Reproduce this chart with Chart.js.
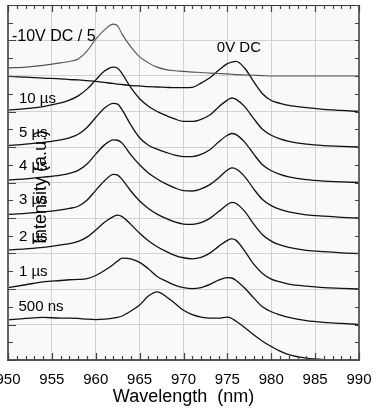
<!DOCTYPE html>
<html>
<head>
<meta charset="utf-8">
<script src="https://cdn.jsdelivr.net/npm/chart.js@4.4.0/dist/chart.umd.min.js"></script>
<style>
    html, body { margin: 0; padding: 0; background: #fff; }
    #wrap { width: 377px; height: 411px; position: relative; }
</style>
</head>
<body>
<div id="wrap"><canvas id="chart"></canvas></div>
<script>
// wavelength samples (nm)
var wavelengths = [950, 952, 954, 956, 957, 958, 959, 960, 961, 962, 962.5, 963, 964, 965, 966, 967, 968, 969, 970, 971,
    972, 973, 974, 975, 975.5, 976, 977, 978, 979, 980, 981, 982, 984, 986, 988, 990];

var seriesNames = ["-10V DC / 5", "0V DC", "10 µs", "5 µs", "4 µs", "3 µs", "2 µs", "1 µs", "500 ns"];
var offsets = [8, 7, 6, 5, 4, 3, 2, 1, 0];

// intensity above each trace's own baseline (a.u.)
var dcMinus10 = [0.23, 0.25, 0.30, 0.37, 0.41, 0.48, 0.70, 1.04, 1.30, 1.46, 1.41, 1.18, 0.82, 0.54, 0.37, 0.25, 0.18, 0.15, 0.13, 0.11,
    0.10, 0.08, 0.07, 0.06, 0.05, 0.04, 0.03, 0.02, 0.01, 0, 0, 0, 0, 0, 0, 0];
var dc0 = [0.99, 0.97, 0.94, 0.92, 0.90, 0.89, 0.87, 0.85, 0.82, 0.79, 0.77, 0.76, 0.73, 0.72, 0.70, 0.69, 0.68, 0.67, 0.67, 0.68,
    0.80, 0.95, 1.16, 1.35, 1.39, 1.41, 1.21, 0.84, 0.50, 0.31, 0.23, 0.17, 0.11, 0.06, 0.03, 0];
var us10 = [1.04, 1.08, 1.14, 1.24, 1.32, 1.44, 1.63, 1.89, 2.14, 2.25, 2.22, 2.07, 1.67, 1.36, 1.15, 1.00, 0.89, 0.79, 0.72, 0.72,
    0.78, 0.90, 1.13, 1.32, 1.38, 1.34, 1.13, 0.80, 0.50, 0.33, 0.23, 0.16, 0.08, 0.04, 0.02, 0];
var us5 = [1.04, 1.08, 1.13, 1.20, 1.26, 1.36, 1.55, 1.83, 2.10, 2.23, 2.21, 2.05, 1.62, 1.26, 1.05, 0.94, 0.85, 0.77, 0.73, 0.73,
    0.79, 0.92, 1.14, 1.33, 1.38, 1.35, 1.13, 0.80, 0.50, 0.33, 0.23, 0.16, 0.08, 0.04, 0.02, 0];
var us4 = [1.07, 1.10, 1.15, 1.21, 1.26, 1.34, 1.52, 1.80, 2.06, 2.20, 2.19, 2.11, 1.78, 1.50, 1.27, 1.10, 0.96, 0.85, 0.77, 0.76,
    0.82, 0.94, 1.13, 1.35, 1.41, 1.38, 1.16, 0.82, 0.52, 0.35, 0.24, 0.17, 0.09, 0.05, 0.02, 0];
var us3 = [1.10, 1.13, 1.17, 1.23, 1.27, 1.33, 1.50, 1.78, 2.05, 2.23, 2.21, 2.09, 1.76, 1.48, 1.27, 1.11, 0.99, 0.89, 0.83, 0.82,
    0.87, 0.99, 1.18, 1.38, 1.44, 1.41, 1.18, 0.83, 0.53, 0.35, 0.24, 0.17, 0.09, 0.05, 0.02, 0];
var us2 = [1.10, 1.13, 1.17, 1.24, 1.28, 1.34, 1.46, 1.66, 1.88, 2.04, 2.08, 2.04, 1.82, 1.57, 1.36, 1.19, 1.06, 0.95, 0.88, 0.85,
    0.89, 1.01, 1.20, 1.37, 1.41, 1.37, 1.06, 0.70, 0.44, 0.28, 0.20, 0.14, 0.08, 0.04, 0.02, 0];
var us1 = [1.04, 1.12, 1.20, 1.24, 1.26, 1.27, 1.29, 1.38, 1.52, 1.69, 1.79, 1.87, 1.85, 1.75, 1.57, 1.35, 1.22, 1.11, 1.04, 1.01,
    1.04, 1.13, 1.25, 1.32, 1.31, 1.24, 1.02, 0.75, 0.50, 0.36, 0.27, 0.20, 0.11, 0.06, 0.03, 0];
var ns500 = [1.13, 1.17, 1.20, 1.18, 1.18, 1.17, 1.15, 1.14, 1.15, 1.18, 1.20, 1.24, 1.38, 1.55, 1.80, 1.92, 1.79, 1.60, 1.40, 1.28,
    1.21, 1.18, 1.18, 1.21, 1.17, 1.09, 0.91, 0.71, 0.53, 0.38, 0.25, 0.15, 0.05, 0.01, 0, 0];

var seriesValues = [dcMinus10, dc0, us10, us5, us4, us3, us2, us1, ns500];
var xTicks = [950, 955, 960, 965, 970, 975, 980, 985, 990];

var FONT = "'Liberation Sans', Arial, sans-serif";

// where each trace name sits (wavelength, intensity)
var labelSpots = [
    [950.45, 9.10], [973.8, 8.79], [951.25, 7.35], [951.25, 6.39], [951.25, 5.46],
    [951.25, 4.51], [951.25, 3.46], [951.25, 2.48], [951.2, 1.49]
];

var datasets = seriesValues.map(function (vals, i) {
    return {
        label: seriesNames[i],
        data: wavelengths.map(function (w, j) { return { x: w, y: vals[j] + offsets[i] }; }),
        borderColor: i === 0 ? "#555555" : "#111111",
        borderWidth: i === 0 ? 1.1 : 1.3,
        pointRadius: 0,
        fill: false,
        cubicInterpolationMode: "monotone"
    };
});

var framePlugin = {
    id: "frame",
    beforeDraw: function (chart) {
        var a = chart.chartArea, ctx = chart.ctx;
        ctx.save();
        ctx.fillStyle = "#f9f9f9";
        ctx.fillRect(a.left, a.top, a.right - a.left, a.bottom - a.top);
        ctx.restore();
    },
    afterDraw: function (chart) {
        var a = chart.chartArea, ctx = chart.ctx;
        var xs = chart.scales.x, ys = chart.scales.y;
        ctx.save();
        // frame
        ctx.lineWidth = 1;
        ctx.strokeStyle = "#333";
        ctx.beginPath();
        ctx.moveTo(a.left, a.top + 0.5);
        ctx.lineTo(a.right, a.top + 0.5);
        ctx.stroke();
        ctx.lineWidth = 2;
        ctx.strokeStyle = "#666";
        ctx.beginPath();
        ctx.moveTo(a.left, a.top);
        ctx.lineTo(a.left, a.bottom);
        ctx.moveTo(a.right, a.top);
        ctx.lineTo(a.right, a.bottom);
        ctx.stroke();
        ctx.strokeStyle = "#555";
        ctx.beginPath();
        ctx.moveTo(a.left - 1, a.bottom);
        ctx.lineTo(a.right + 1, a.bottom);
        ctx.stroke();

        // inward tick marks
        ctx.lineWidth = 1.2;
        ctx.strokeStyle = "#444";
        ctx.beginPath();
        for (var w = 950; w <= 990; w++) {
            var px = Math.round(xs.getPixelForValue(w)) + 0.5;
            var len = (w % 5 === 0) ? 7 : 4;
            ctx.moveTo(px, a.bottom);
            ctx.lineTo(px, a.bottom - len);
            ctx.moveTo(px, a.top);
            ctx.lineTo(px, a.top + len);
        }
        for (var v = 0; v <= 10; v += 0.5) {
            var py = Math.round(ys.getPixelForValue(v)) + 0.5;
            var l = (v % 1 === 0) ? 8 : 5;
            ctx.moveTo(a.left, py);
            ctx.lineTo(a.left + l, py);
            ctx.moveTo(a.right, py);
            ctx.lineTo(a.right - 4, py);
        }
        ctx.stroke();

        // trace names
        ctx.fillStyle = "#000";
        ctx.textBaseline = "middle";
        ctx.textAlign = "left";
        labelSpots.forEach(function (s, i) {
            ctx.font = (i === 0 ? "16px " : "15px ") + FONT;
            ctx.fillText(seriesNames[i], xs.getPixelForValue(s[0]), ys.getPixelForValue(s[1]));
        });

        // y axis title, drawn inside the plot
        ctx.translate(41, 187);
        ctx.rotate(-Math.PI / 2);
        ctx.textAlign = "center";
        ctx.font = "18px " + FONT;
        ctx.fillText("Intensity (a.u.)", 0, 0);
        ctx.restore();
    }
};

new Chart(document.getElementById("chart"), {
    type: "line",
    data: { datasets: datasets },
    options: {
        responsive: true,
        maintainAspectRatio: false,
        animation: false,
        devicePixelRatio: 1,
        layout: { padding: { top: 5, right: 18, left: 0, bottom: 0 } },
        plugins: { legend: { display: false }, tooltip: { enabled: false } },
        scales: {
            x: {
                type: "linear",
                min: 950,
                max: 990,
                afterFit: function (s) {
                    s.height = 51;
                    // let the 950 / 990 labels run past the edges, as in the original
                    s.paddingLeft = 0;
                    s.paddingRight = 0;
                },
                afterBuildTicks: function (s) { s.ticks = xTicks.map(function (v) { return { value: v }; }); },
                ticks: {
                    color: "#000",
                    font: { family: FONT, size: 15 },
                    padding: 11,
                    maxRotation: 0,
                    autoSkip: false
                },
                grid: { color: "#d2d2d2", drawTicks: false, lineWidth: 1 },
                border: { display: false },
                title: {
                    display: true,
                    text: "Wavelength  (nm)",
                    color: "#000",
                    font: { family: FONT, size: 18 },
                    padding: { top: 0, bottom: 3 }
                }
            },
            y: {
                min: 0,
                max: 10,
                afterFit: function (s) { s.width = 8; },
                ticks: { display: false, stepSize: 1 },
                grid: { color: "#d2d2d2", drawTicks: false, lineWidth: 1 },
                border: { display: false }
            }
        }
    },
    plugins: [framePlugin]
});
</script>
</body>
</html>
